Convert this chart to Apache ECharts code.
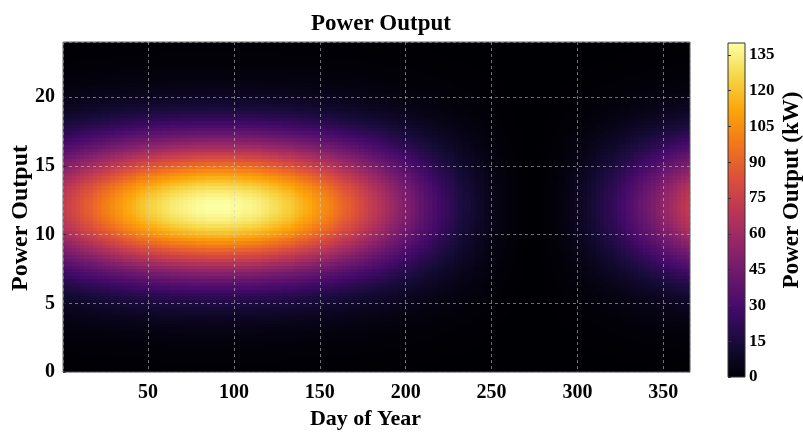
<!DOCTYPE html>
<html><head><meta charset="utf-8">
<script src="https://cdn.jsdelivr.net/npm/echarts@6/dist/echarts.min.js"></script>
<style>html,body{margin:0;padding:0;background:#fff}#c{width:803px;height:435px}</style>
</head><body><div id="c"></div>
<script>
// Day-of-year column centres (each column spans 2.5 days, 0.5 .. 365.5)
const dayCenters = [1.75,4.25,6.75,9.25,11.75,14.25,16.75,19.25,21.75,24.25,26.75,29.25,31.75,34.25,36.75,39.25,41.75,44.25,46.75,49.25,
  51.75,54.25,56.75,59.25,61.75,64.25,66.75,69.25,71.75,74.25,76.75,79.25,81.75,84.25,86.75,89.25,91.75,94.25,96.75,99.25,
  101.75,104.25,106.75,109.25,111.75,114.25,116.75,119.25,121.75,124.25,126.75,129.25,131.75,134.25,136.75,139.25,141.75,144.25,146.75,149.25,
  151.75,154.25,156.75,159.25,161.75,164.25,166.75,169.25,171.75,174.25,176.75,179.25,181.75,184.25,186.75,189.25,191.75,194.25,196.75,199.25,
  201.75,204.25,206.75,209.25,211.75,214.25,216.75,219.25,221.75,224.25,226.75,229.25,231.75,234.25,236.75,239.25,241.75,244.25,246.75,249.25,
  251.75,254.25,256.75,259.25,261.75,264.25,266.75,269.25,271.75,274.25,276.75,279.25,281.75,284.25,286.75,289.25,291.75,294.25,296.75,299.25,
  301.75,304.25,306.75,309.25,311.75,314.25,316.75,319.25,321.75,324.25,326.75,329.25,331.75,334.25,336.75,339.25,341.75,344.25,346.75,349.25,
  351.75,354.25,356.75,359.25,361.75,364.25];
// Output at solar noon (kW) read along the 12 h row
const noonOutputKW = [74,77,79,82,85,88,90,93,96,99,
  101,104,107,109,112,114,116,119,121,123,
  125,126,128,130,131,133,134,135,136,137,
  138,139,139,140,140,140,140,140,140,139,
  139,138,137,137,136,135,133,132,130,129,
  127,125,124,122,119,117,115,113,110,108,
  105,103,100,97,94,91,89,86,83,80,
  77,74,71,68,65,62,59,56,53,50,
  48,45,42,39,36,34,31,28,26,24,
  22,19,17,15,14,12,10,9,7,6,
  5,4,3,2,1.4,0.9,0.5,0.2,0,0,
  0.1,0.3,0.7,1.2,1.8,2.6,3.5,4.5,5.7,7,
  8.5,10,12,14,16,18,20,22,24,27,
  29,32,34,37,40,43,45,48,51,54,
  57,60,63,66,69,72];
// Hour-of-day row centres (each row spans 0.25 h)
const hourCenters = [0.125,0.375,0.625,0.875,1.125,1.375,1.625,1.875,2.125,2.375,2.625,2.875,3.125,3.375,3.625,3.875,
  4.125,4.375,4.625,4.875,5.125,5.375,5.625,5.875,6.125,6.375,6.625,6.875,7.125,7.375,7.625,7.875,
  8.125,8.375,8.625,8.875,9.125,9.375,9.625,9.875,10.125,10.375,10.625,10.875,11.125,11.375,11.625,11.875,
  12.125,12.375,12.625,12.875,13.125,13.375,13.625,13.875,14.125,14.375,14.625,14.875,15.125,15.375,15.625,15.875,
  16.125,16.375,16.625,16.875,17.125,17.375,17.625,17.875,18.125,18.375,18.625,18.875,19.125,19.375,19.625,19.875,
  20.125,20.375,20.625,20.875,21.125,21.375,21.625,21.875,22.125,22.375,22.625,22.875,23.125,23.375,23.625,23.875];
// Share of the noon output at each hour row
const hourShare = [0.002,0.003,0.004,0.005,0.006,0.008,0.010,0.012,0.015,0.018,0.022,0.027,0.033,0.040,0.048,0.058,
  0.068,0.081,0.095,0.111,0.129,0.150,0.172,0.197,0.225,0.254,0.287,0.321,0.358,0.396,0.437,0.479,
  0.522,0.566,0.611,0.656,0.699,0.742,0.783,0.823,0.859,0.892,0.921,0.947,0.967,0.983,0.994,0.999,
  0.999,0.994,0.983,0.967,0.947,0.921,0.892,0.859,0.823,0.783,0.742,0.699,0.656,0.611,0.566,0.522,
  0.479,0.437,0.396,0.358,0.321,0.287,0.254,0.225,0.197,0.172,0.150,0.129,0.111,0.095,0.081,0.068,
  0.058,0.048,0.040,0.033,0.027,0.022,0.018,0.015,0.012,0.010,0.008,0.006,0.005,0.004,0.003,0.002];
const colorMin = 0, colorMax = 140;
const infernoColors = ['#000004','#160b39','#420a68','#6a176e','#932667','#bc3754','#dd513a','#f37819','#fca50a','#f6d746','#fcffa4'];

const DAY_HALF = 1.25, HOUR_HALF = 0.125;
const cells = [];
for (let i = 0; i < dayCenters.length; i++) {
  for (let j = 0; j < hourCenters.length; j++) {
    cells.push([dayCenters[i], hourCenters[j], +(noonOutputKW[i] * hourShare[j]).toFixed(2)]);
  }
}
const FONT = 'Liberation Serif';
const chart = echarts.init(document.getElementById('c'), null, {renderer: 'canvas'});
const colStops = infernoColors.map((c, k) => ({offset: k / (infernoColors.length - 1), color: c}));
const gridLine = {show: true, lineStyle: {color: 'rgba(205,205,205,0.55)', type: [3, 3], width: 1}};

chart.setOption({
  animation: false,
  backgroundColor: '#fff',
  title: {text: 'Power Output', left: 376, top: 8, textAlign: 'center',
    textStyle: {fontFamily: FONT, fontWeight: 'bold', fontSize: 23, color: '#000'}},
  grid: [
    {left: 63, top: 42, width: 627, height: 336, show: true, borderColor: '#666', borderWidth: 1, backgroundColor: 'transparent', z: 6},
    {left: 728, top: 43, width: 17, height: 334, show: true, borderColor: '#333', borderWidth: 1, backgroundColor: 'transparent', z: 6}
  ],
  xAxis: [
    {type: 'value', gridIndex: 0, min: 0.5, max: 365.5, splitNumber: 7, z: 5,
     axisLine: {show: false}, axisTick: {show: false},
     axisLabel: {showMinLabel: false, showMaxLabel: false, fontFamily: FONT, fontWeight: 'bold', fontSize: 20, color: '#000', margin: 11},
     splitLine: gridLine,
     name: 'Day of Year', nameLocation: 'middle', nameGap: 33,
     nameTextStyle: {fontFamily: FONT, fontWeight: 'bold', fontSize: 22, color: '#000', padding: [0, 22, 0, 0]}},
    {type: 'value', gridIndex: 1, min: 0, max: 1, show: false}
  ],
  yAxis: [
    {type: 'value', gridIndex: 0, min: 0, max: 24, interval: 5, z: 5,
     axisLine: {show: false}, axisTick: {show: true, inside: true, length: 3, lineStyle: {color: '#222'}},
     axisLabel: {showMaxLabel: false, fontFamily: FONT, fontWeight: 'bold', fontSize: 20, color: '#000', margin: 8},
     splitLine: gridLine},
    {type: 'value', gridIndex: 1, min: colorMin, max: colorMax, interval: 15, position: 'right', z: 5,
     axisLine: {show: false}, axisTick: {show: true, length: 3, lineStyle: {color: '#333'}},
     axisLabel: {showMaxLabel: false, fontFamily: FONT, fontWeight: 'bold', fontSize: 17, color: '#000', margin: 4},
     splitLine: {show: false}}
  ],
  visualMap: {show: false, type: 'continuous', min: colorMin, max: colorMax, dimension: 2, seriesIndex: 0,
    inRange: {color: infernoColors}},
  graphic: [
    {type: 'text', x: 21, y: 218, rotation: Math.PI / 2,
     style: {text: 'Power Output', font: 'bold 24px "Liberation Serif"', fill: '#000', align: 'center', verticalAlign: 'middle'}},
    {type: 'text', x: 792, y: 190, rotation: Math.PI / 2,
     style: {text: 'Power Output (kW)', font: 'bold 23px "Liberation Serif"', fill: '#000', align: 'center', verticalAlign: 'middle'}}
  ],
  series: [
    {type: 'custom', xAxisIndex: 0, yAxisIndex: 0, data: cells, encode: {x: 0, y: 1}, z: 1, clip: true, silent: true,
     renderItem(params, api) {
       const x = api.value(0), y = api.value(1);
       const a = api.coord([x - DAY_HALF, y + HOUR_HALF]);
       const b = api.coord([x + DAY_HALF, y - HOUR_HALF]);
       const x0 = Math.round(a[0]), y0 = Math.round(a[1]);
       const x1 = Math.round(b[0]), y1 = Math.round(b[1]);
       return {type: 'rect', shape: {x: x0, y: y0, width: x1 - x0, height: y1 - y0},
               style: {fill: api.visual('color')}};
     }},
    {type: 'custom', xAxisIndex: 1, yAxisIndex: 1, data: [[0, colorMax]], z: 1, silent: true,
     renderItem(params, api) {
       const a = api.coord([0, colorMax]);
       const b = api.coord([1, colorMin]);
       return {type: 'rect', shape: {x: a[0], y: a[1], width: b[0] - a[0], height: b[1] - a[1]},
               style: {fill: new echarts.graphic.LinearGradient(0, 1, 0, 0, colStops)}};
     }}
  ]
});
</script></body></html>
